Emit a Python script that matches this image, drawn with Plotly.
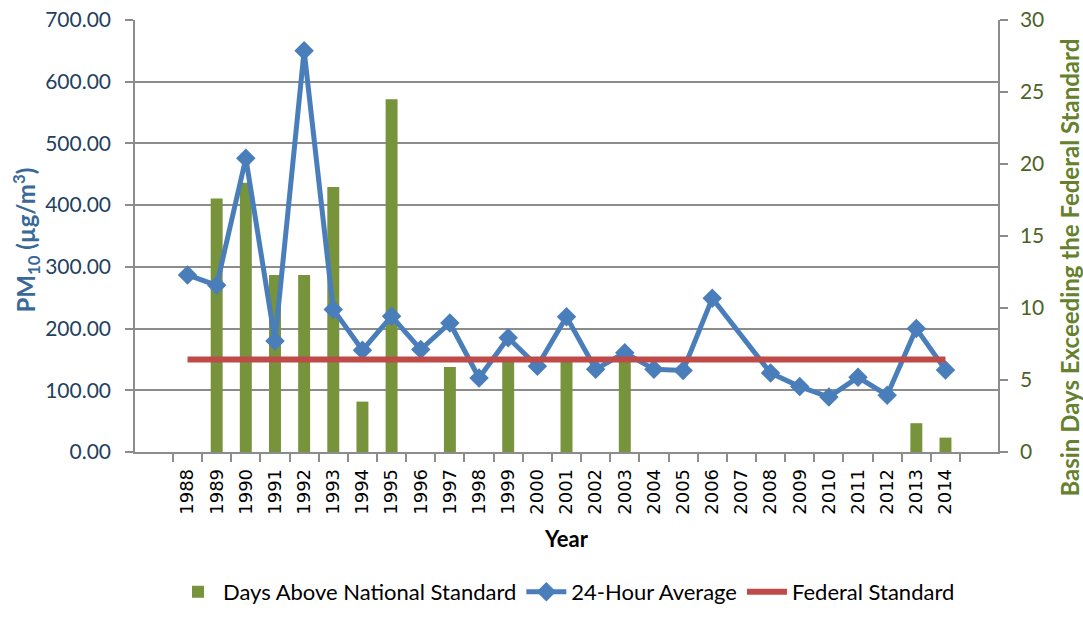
import plotly.graph_objects as go

years = [str(y) for y in range(1988, 2015)]

# 24-hour average PM10 concentration (µg/m³); 2007 has no reading
avg_24h = [287, 270, 476, 180, 650, 231, 165, 220, 166, 209, 120, 185, 139, 219,
           134, 161, 134, 132, 249, None, 128, 106, 89, 121, 92, 200, 133]

# Days above the national standard (right axis)
days_above = [0, 17.6, 18.7, 12.3, 12.3, 18.4, 3.5, 24.5, 0, 5.9, 0, 6.4, 0, 6.4,
              0, 6.4, 0, 0, 0, 0, 0, 0, 0, 0, 0, 2.0, 1.0]

federal_standard = [150] * len(years)

left_ticks = [0, 100, 200, 300, 400, 500, 600, 700]
right_ticks = [0, 5, 10, 15, 20, 25, 30]

GRID = "#8C8C8C"
FONT = "Lato"

fig = go.Figure()

# Bars sit on the base y-axis (drawn first, underneath the lines)
fig.add_trace(go.Bar(
    x=years, y=days_above, yaxis="y", name="Days Above National Standard",
    marker=dict(color="#77933C", line=dict(width=0)), width=0.41,
))

fig.add_trace(go.Scatter(
    x=years, y=avg_24h, yaxis="y2", mode="lines+markers", name="24-Hour Average",
    connectgaps=True,
    line=dict(color="#4A7EBB", width=5),
    marker=dict(symbol="diamond", size=15, color="#4A7EBB"),
))

fig.add_trace(go.Scatter(
    x=years, y=federal_standard, yaxis="y2", mode="lines", name="Federal Standard",
    line=dict(color="#BE4B48", width=6),
))

fig.update_layout(
    width=1083, height=634,
    margin=dict(l=135, r=85, t=20, b=182),
    plot_bgcolor="white", paper_bgcolor="white",
    font=dict(family=FONT, color="black"),
    xaxis=dict(
        type="category", tickangle=-90, tickson="boundaries",
        ticks="outside", ticklen=8, tickcolor=GRID, tickwidth=1.5,
        showline=True, linecolor=GRID, linewidth=1.5,
        showgrid=False, automargin=False, ticklabelstandoff=8,
        tickfont=dict(family="DejaVu Sans", size=18, color="black"),
        title=dict(text="<b>Year</b>", font=dict(family=FONT, size=22, color="black"),
                   standoff=18),
    ),
    yaxis=dict(
        range=[0, 30], tickvals=right_ticks, side="right",
        showgrid=False, zeroline=False, automargin=False,
        showline=True, linecolor=GRID, linewidth=1.5,
        ticks="outside", ticklen=8, tickcolor=GRID, tickwidth=1.5,
        ticklabelstandoff=8,
        tickfont=dict(family=FONT, size=21, color="#4F6228"),
    ),
    yaxis2=dict(
        range=[0, 700], tickvals=left_ticks, tickformat=".2f",
        overlaying="y", side="left", automargin=False,
        showgrid=True, gridcolor=GRID, gridwidth=1.5,
        showline=True, linecolor=GRID, linewidth=1.5,
        ticks="outside", ticklen=8, tickcolor=GRID, tickwidth=1.5,
        ticklabelstandoff=10,
        tickfont=dict(family=FONT, size=21, color="#243F60"),
        zeroline=False,
    ),
    legend=dict(
        orientation="h", x=0.5, xanchor="center", y=-0.324, yanchor="middle",
        font=dict(family=FONT, size=22, color="black"),
        itemwidth=40, tracegroupgap=0,
    ),
    showlegend=True,
)

# Axis titles placed as rotated annotations
fig.add_annotation(
    text="<b>PM<sub>10</sub> (µg/m<sup>3</sup>)</b>",
    xref="paper", yref="paper", x=-0.126, y=0.49, textangle=-90,
    showarrow=False, font=dict(family=FONT, size=24, color="#386998"),
    xanchor="center", yanchor="middle",
)

fig.add_annotation(
    text="<b>Basin Days Exceeding the Federal Standard</b>",
    xref="paper", yref="paper", x=1.083, y=0.426, textangle=-90,
    showarrow=False, font=dict(family=FONT, size=24, color="#66812E"),
    xanchor="center", yanchor="middle",
)

fig.write_html("out.html")
